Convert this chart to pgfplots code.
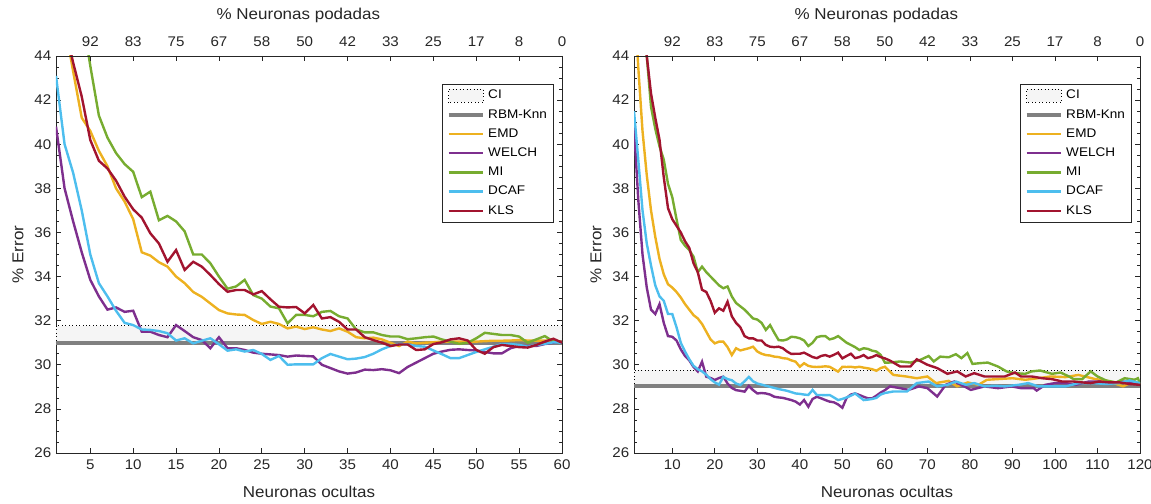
\documentclass[border=0pt]{standalone}
\usepackage{pgfplots}
\pgfplotsset{compat=1.18}
\usepackage{fontspec}
\setmainfont[FakeStretch=1.08]{Liberation Sans}
\definecolor{cEMD}{rgb}{0.929,0.694,0.125}
\definecolor{cWELCH}{rgb}{0.494,0.184,0.556}
\definecolor{cMI}{rgb}{0.466,0.674,0.188}
\definecolor{cDCAF}{rgb}{0.301,0.745,0.933}
\definecolor{cKLS}{rgb}{0.635,0.078,0.184}
\definecolor{axc}{rgb}{0.15,0.15,0.15}
\pgfplotsset{
 common/.style={
  width=379.5pt, height=297.75pt, scale only axis,
  ymin=26, ymax=44,
  tick align=inside, major tick length=4pt, minor tick length=2.2pt,
  axis line style={axc, line width=0.5pt},
  every tick/.style={axc, line width=0.5pt},
  tick label style={font=\fontsize{10.5}{12}\selectfont, text=axc},
  /pgf/number format/assume math mode=true,
  label style={font=\fontsize{11.8}{13}\selectfont, text=axc},
 },
 base/.style={
  common,
  xtick pos=lower,
  ytick={26,28,...,44}, minor y tick num=3,
  x tick label style={yshift=-1.5pt},
  xlabel={Neuronas ocultas}, ylabel={\% Error},
  x label style={at={(axis description cs:0.5,-0.098)}, anchor=center},
  y label style={at={(axis description cs:-0.075,0.5)}, anchor=center},
  legend style={at={(rel axis cs:0.984,0.9295)}, anchor=north east, draw=axc, fill=white,
    line width=0.5pt, font=\fontsize{9.4}{11}\selectfont, row sep=1.4pt,
    nodes={inner sep=2pt, text height=7pt, text depth=2pt}},
  legend cell align=left,
  legend image code/.code={\draw[#1] (0pt,0pt) -- (26pt,0pt);},
 },
 topax/.style={
  common,
  axis x line*=top, axis y line=none,
  x tick label style={yshift=3.5pt},
  xlabel={\% Neuronas podadas},
  x label style={at={(axis description cs:0.5,1.103)}, anchor=center, xshift=-8pt},
 },
 ser/.style={line width=1.8pt, #1},
 ci/.style={fill=black!4, draw=black, dotted, line width=0.6pt, area legend,
   legend image code/.code={\draw[##1] (0pt,-5pt) rectangle (26pt,5pt);}},
 rbm/.style={color=black!50, line width=3.3pt},
}
\begin{document}
\begin{tikzpicture}
\useasboundingbox (-42pt,-37.5pt) rectangle (821.25pt,339.75pt);
% ---------------- left panel ----------------
\begin{axis}[base, at={(0pt,0pt)}, anchor=south west, xmin=1, xmax=60, xtick={5,10,...,60}]
\addplot[ci] coordinates {(1,31.0) (60,31.0) (60,31.78) (1,31.78)} -- cycle;
\addlegendentry{CI}
\addplot[rbm] coordinates {(1,31.0) (60,31.0)};
\addlegendentry{RBM-Knn}
\addplot[ser=cEMD] coordinates {(1,48)(2,45.5)(3,43.3)(4,41.2)(5,40.6)(6,39.7)(7,39.0)(8,38.0)(9,37.4)(10,36.6)(11,35.1)(12,34.95)(13,34.65)(14,34.45)(15,34.0)(16,33.7)(17,33.3)(18,33.08)(19,32.78)(20,32.48)(21,32.33)(22,32.28)(23,32.26)(24,32.03)(25,31.85)(26,31.95)(27,31.85)(28,31.65)(29,31.73)(30,31.62)(31,31.7)(32,31.6)(33,31.53)(34,31.65)(35,31.5)(36,31.25)(37,31.2)(38,31.23)(39,31.15)(40,31.0)(41,30.85)(42,31.05)(43,30.97)(44,31.0)(45,31.02)(46,31.05)(47,31.05)(48,31.05)(49,31.05)(50,31.05)(51,31.07)(52,31.09)(53,31.09)(54,31.1)(55,31.12)(56,31.1)(57,31.09)(58,31.1)(59,31.1)(60,31.05)};
\addlegendentry{EMD}
\addplot[ser=cWELCH] coordinates {(1,40.8)(2,38.0)(3,36.5)(4,35.1)(5,33.85)(6,33.1)(7,32.5)(8,32.6)(9,32.4)(10,32.45)(11,31.5)(12,31.5)(13,31.35)(14,31.25)(15,31.8)(16,31.53)(17,31.25)(18,31.12)(19,30.75)(20,31.25)(21,30.75)(22,30.75)(23,30.67)(24,30.55)(25,30.5)(26,30.47)(27,30.44)(28,30.37)(29,30.42)(30,30.4)(31,30.38)(32,30.0)(33,29.85)(34,29.7)(35,29.6)(36,29.65)(37,29.78)(38,29.76)(39,29.8)(40,29.75)(41,29.62)(42,29.9)(43,30.1)(44,30.3)(45,30.5)(46,30.6)(47,30.68)(48,30.7)(49,30.67)(50,30.65)(51,30.58)(52,30.52)(53,30.52)(54,30.75)(55,30.85)(56,30.85)(57,30.85)(58,30.94)(59,31.0)(60,31.05)};
\addlegendentry{WELCH}
\addplot[ser=cMI] coordinates {(1,52)(2,49.5)(3,47.7)(4,46.0)(5,43.55)(6,41.3)(7,40.3)(8,39.6)(9,39.1)(10,38.75)(11,37.6)(12,37.85)(13,36.55)(14,36.75)(15,36.5)(16,36.05)(17,35.0)(18,35.0)(19,34.6)(20,34.0)(21,33.45)(22,33.55)(23,33.85)(24,33.16)(25,33.0)(26,32.64)(27,32.56)(28,31.88)(29,32.26)(30,32.26)(31,32.2)(32,32.4)(33,32.44)(34,32.2)(35,32.1)(36,31.6)(37,31.47)(38,31.47)(39,31.35)(40,31.28)(41,31.28)(42,31.16)(43,31.2)(44,31.25)(45,31.28)(46,31.15)(47,31.05)(48,30.95)(49,31.0)(50,31.2)(51,31.45)(52,31.4)(53,31.35)(54,31.35)(55,31.28)(56,31.0)(57,31.15)(58,31.3)(59,31.05)(60,31.0)};
\addlegendentry{MI}
\addplot[ser=cDCAF] coordinates {(1,43.1)(2,40.0)(3,38.7)(4,37.0)(5,35.0)(6,33.7)(7,33.1)(8,32.45)(9,31.9)(10,31.8)(11,31.6)(12,31.58)(13,31.53)(14,31.43)(15,31.1)(16,31.2)(17,30.97)(18,31.09)(19,31.2)(20,30.93)(21,30.64)(22,30.7)(23,30.6)(24,30.67)(25,30.49)(26,30.22)(27,30.4)(28,30.0)(29,30.02)(30,30.02)(31,30.02)(32,30.3)(33,30.49)(34,30.37)(35,30.25)(36,30.28)(37,30.35)(38,30.5)(39,30.7)(40,30.85)(41,30.94)(42,30.92)(43,30.85)(44,30.82)(45,30.65)(46,30.48)(47,30.3)(48,30.3)(49,30.44)(50,30.58)(51,30.7)(52,30.82)(53,30.94)(54,30.94)(55,30.9)(56,30.82)(57,30.9)(58,30.95)(59,31.02)(60,31.0)};
\addlegendentry{DCAF}
\addplot[ser=cKLS] coordinates {(1,47.2)(2,45.4)(3,43.7)(4,42.16)(5,40.19)(6,39.25)(7,38.9)(8,38.35)(9,37.62)(10,37.05)(11,36.67)(12,35.96)(13,35.5)(14,34.67)(15,35.2)(16,34.3)(17,34.67)(18,34.45)(19,34.07)(20,33.66)(21,33.31)(22,33.39)(23,33.39)(24,33.19)(25,33.34)(26,32.97)(27,32.63)(28,32.6)(29,32.62)(30,32.33)(31,32.71)(32,32.1)(33,32.16)(34,31.95)(35,31.6)(36,31.6)(37,31.25)(38,31.12)(39,31.0)(40,30.85)(41,30.92)(42,30.92)(43,30.67)(44,30.7)(45,30.94)(46,31.02)(47,31.15)(48,31.2)(49,31.1)(50,30.67)(51,30.5)(52,30.8)(53,30.9)(54,30.85)(55,30.8)(56,30.78)(57,30.9)(58,31.05)(59,31.18)(60,31.0)};
\addlegendentry{KLS}
\end{axis}
\begin{axis}[topax, at={(0pt,0pt)}, anchor=south west, xmin=1, xmax=60, xtick={5,10,...,60},
  xticklabels={92,83,75,67,58,50,42,33,25,17,8,0}]
\end{axis}
% ---------------- right panel ----------------
\begin{axis}[base, at={(433.5pt,0pt)}, anchor=south west, xmin=1, xmax=120, xtick={10,20,...,120}]
\addplot[ci] coordinates {(1,29.05) (120,29.05) (120,29.75) (1,29.75)} -- cycle;
\addlegendentry{CI}
\addplot[rbm] coordinates {(1,29.05) (120,29.05)};
\addlegendentry{RBM-Knn}
\addplot[ser=cEMD] coordinates {(1,47)(2,43.5)(3,40.6)(4,38.6)(5,37.0)(6,35.8)(7,34.8)(8,34.1)(9,33.65)(10,33.5)(11,33.3)(12,33.05)(13,32.75)(14,32.5)(15,32.25)(16,32.1)(17,31.85)(18,31.5)(19,31.15)(20,30.97)(21,31.05)(22,31.05)(23,30.8)(24,30.44)(25,30.75)(26,30.65)(27,30.7)(28,30.75)(29,30.82)(30,30.6)(31,30.5)(32,30.44)(33,30.42)(34,30.37)(35,30.35)(36,30.3)(37,30.28)(38,30.2)(39,30.14)(40,29.91)(41,30.07)(42,29.95)(43,29.91)(44,29.9)(45,29.91)(46,29.93)(47,29.91)(48,29.8)(49,29.69)(50,29.91)(51,29.9)(52,29.91)(53,29.88)(54,29.91)(55,29.87)(56,29.84)(57,29.8)(58,29.73)(59,29.85)(60,29.91)(62,29.54)(65,29.47)(67.5,29.39)(70,29.47)(72,29.17)(75,29.27)(77,29.02)(79.5,29.2)(82,29.09)(84,29.32)(86.5,29.35)(90,29.39)(93,29.32)(96,29.39)(99,29.47)(102.5,29.44)(105.5,29.54)(107,29.47)(109.5,29.35)(112,29.29)(115,29.09)(116,29.02)(118,29.2)(120,29.13)};
\addlegendentry{EMD}
\addplot[ser=cWELCH] coordinates {(1,40.8)(2,37.5)(3,35.0)(4,33.5)(5,32.5)(6,32.3)(7,32.75)(8,31.9)(9,31.3)(10,31.27)(11,31.1)(12,30.7)(13,30.4)(14,30.2)(15,29.9)(16,29.7)(17,30.14)(18,29.46)(19,29.4)(20,29.31)(21,29.4)(22,29.46)(23,29.15)(24,28.95)(25,28.85)(26,28.82)(27,28.78)(28,29.04)(29,28.85)(30,28.7)(31,28.72)(32,28.7)(33,28.65)(34,28.55)(35,28.52)(36,28.5)(37,28.45)(38,28.4)(39,28.33)(40,28.2)(41,28.4)(42,28.1)(43,28.45)(44,28.55)(45,28.48)(46,28.4)(47,28.33)(48,28.3)(49,28.2)(50,28.05)(51,28.5)(52,28.65)(53,28.7)(54,28.63)(55,28.55)(56,28.48)(57,28.48)(58,28.6)(59,28.74)(60,28.85)(61.2,29.02)(63.6,28.94)(65.6,28.86)(68,29.02)(70,28.94)(72.3,28.56)(74.3,29.09)(76.3,29.24)(78.7,29.02)(80.2,28.86)(83.4,29.02)(86.6,28.94)(89.8,29.02)(92,28.94)(95,28.94)(95.7,28.83)(97.7,29.09)(100,29.17)(102.5,29.17)(104.8,29.09)(108,29.24)(110.4,29.24)(112.8,29.17)(116,29.24)(119,29.17)(120,29.13)};
\addlegendentry{WELCH}
\addplot[ser=cMI] coordinates {(1,52)(2,49)(3,46.5)(4,44)(5,41.7)(6,40.7)(7,39.9)(8,39.3)(9,38.2)(10,37.6)(11,36.6)(12,35.66)(13,35.4)(14,35.2)(15,34.9)(16,34.2)(17,34.45)(18,34.2)(19,34.0)(20,33.8)(21,33.6)(22,33.47)(23,33.55)(24,33.1)(25,32.8)(26,32.65)(27,32.5)(28,32.3)(29,32.1)(30,32.05)(31,31.9)(32,31.58)(33,31.8)(34,31.45)(35,31.12)(36,31.1)(37,31.15)(38,31.27)(39,31.25)(40,31.2)(41,31.1)(42,30.85)(43,31.0)(44,31.25)(45,31.3)(46,31.3)(47,31.15)(48,31.2)(49,31.3)(50,31.15)(51,31.0)(52,30.9)(53,30.8)(54,30.67)(55,30.75)(56,30.72)(57,30.64)(58,30.6)(59,30.45)(60,30.1)(61,30.1)(63.6,30.15)(66,30.1)(68.3,30.22)(70.3,30.4)(71.5,30.15)(73,30.37)(75,30.34)(76.7,30.48)(78,30.3)(79.4,30.53)(80.6,30.04)(82.2,30.07)(84.2,30.1)(86.6,29.92)(88.6,29.7)(90.6,29.62)(93,29.59)(94.5,29.7)(96.5,29.74)(99.3,29.59)(101.3,29.65)(103.3,29.47)(104.4,29.35)(106.4,29.35)(108.4,29.7)(110,29.47)(112,29.29)(114.4,29.2)(116.4,29.39)(118.7,29.32)(119.5,29.39)(120,29.13)};
\addlegendentry{MI}
\addplot[ser=cDCAF] coordinates {(1,41.5)(2,39.3)(3,37.0)(4,35.5)(5,34.5)(6,33.6)(7,33.1)(8,32.9)(9,32.3)(10,32.3)(11,31.7)(12,31.0)(13,30.6)(14,30.25)(15,29.95)(16,29.8)(17,29.7)(18,29.55)(19,29.35)(20,29.2)(21,29.1)(22,29.45)(23,29.35)(24,29.3)(25,29.15)(26,29.08)(27,29.25)(28,29.45)(29,29.25)(30,29.15)(31,29.1)(32,29.05)(33,29.0)(34,28.95)(35,28.9)(36,28.86)(37,28.82)(38,28.76)(39,28.7)(40,28.68)(41,28.65)(42,28.63)(43,28.86)(44,28.63)(45,28.63)(46,28.62)(47,28.63)(48,28.52)(49,28.4)(50,28.45)(51,28.52)(52,28.6)(53,28.7)(54,28.55)(55,28.4)(56,28.42)(57,28.45)(58,28.5)(59,28.65)(60,28.72)(62,28.79)(65.2,28.79)(67.5,29.17)(70.3,29.24)(72.3,29.02)(74.7,29.09)(76.7,29.24)(79.1,29.09)(81,29.17)(83.4,29.02)(85.8,29.05)(88.2,29.02)(91.4,29.09)(93.7,29.17)(96.1,29.02)(99.3,29.02)(102.5,29.02)(105.6,29.17)(108.8,29.17)(112,29.13)(115.2,29.17)(117.5,29.29)(120,29.17)};
\addlegendentry{DCAF}
\addplot[ser=cKLS] coordinates {(1,50)(2,48)(3,46)(4,44)(5,42.3)(6,41.2)(7,40.2)(8,38.5)(9,37.1)(10,36.6)(11,36.3)(12,36.0)(13,35.6)(14,35.3)(15,34.6)(16,34.2)(17,33.4)(18,33.3)(19,32.9)(20,32.36)(21,32.56)(22,32.45)(23,32.86)(24,32.2)(25,31.9)(26,31.7)(27,31.3)(28,31.2)(29,31.2)(30,31.1)(31,31.1)(32,30.9)(33,30.82)(34,30.8)(35,30.82)(36,30.75)(37,30.6)(38,30.49)(39,30.5)(40,30.5)(41,30.55)(42,30.45)(43,30.35)(44,30.3)(45,30.4)(46,30.44)(47,30.37)(48,30.45)(49,30.55)(50,30.29)(51,30.4)(52,30.5)(53,30.3)(54,30.35)(55,30.44)(56,30.3)(57,30.35)(58,30.44)(59,30.35)(60,30.29)(61.2,30.19)(63.6,29.92)(66,29.92)(67.5,30.25)(70,30.0)(72.3,29.85)(74.7,29.59)(77,29.7)(79,29.47)(81,29.62)(83.4,29.47)(85.8,29.47)(88.2,29.47)(90.6,29.65)(92,29.47)(94.5,29.47)(97,29.39)(99.3,29.35)(101.7,29.24)(104.4,29.24)(106.4,29.2)(108.4,29.17)(110.4,29.24)(112.8,29.2)(115.2,29.2)(117.5,29.13)(120,29.09)};
\addlegendentry{KLS}
\end{axis}
\begin{axis}[topax, at={(433.5pt,0pt)}, anchor=south west, xmin=1, xmax=120, xtick={10,20,...,120},
  xticklabels={92,83,75,67,58,50,42,33,25,17,8,0}]
\end{axis}
\end{tikzpicture}
\end{document}
